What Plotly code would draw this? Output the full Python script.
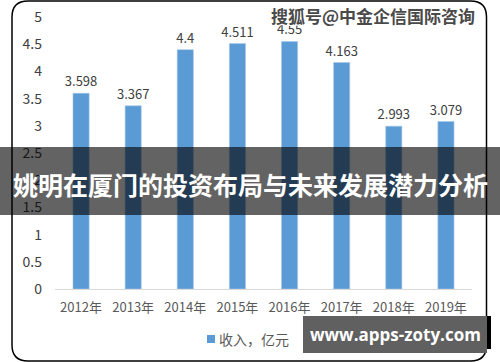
import plotly.graph_objects as go

years = ["2012年", "2013年", "2014年", "2015年", "2016年", "2017年", "2018年", "2019年"]
revenue = [3.598, 3.367, 4.4, 4.511, 4.55, 4.163, 2.993, 3.079]
value_labels = ["3.598", "3.367", "4.4", "4.511", "4.55", "4.163", "2.993", "3.079"]
series_name = "收入，亿元"
banner_title = "姚明在厦门的投资布局与未来发展潜力分析"
top_mark = "搜狐号@中金企信国际咨询"
site_mark = "www.apps-zoty.com"

W, H = 500, 362
L, R, T, B = 55, 28, 17, 73
PW, PH = W - L - R, H - T - B

def px(x):
    return (x - L) / PW

def py(y):
    return (H - B - y) / PH

FONT = "Noto Sans CJK SC, Open Sans, sans-serif"

fig = go.Figure()
fig.add_trace(go.Bar(
    x=years, y=revenue, name=series_name,
    marker=dict(color="#5b9bd5", line=dict(color="#a9c8ea", width=0.6)),
    text=value_labels, textposition="outside", cliponaxis=False,
    constraintext="none",
    textfont=dict(size=13, color="#404040", family=FONT),
    showlegend=False,
))

r = 16
x0, x1, y0, y1 = 12, 486.5, 1, 361
pts = [
    f"M{px(x0)},{py(y0 + r)}",
    f"Q{px(x0)},{py(y0)} {px(x0 + r)},{py(y0)}",
    f"L{px(x1 - r)},{py(y0)}",
    f"Q{px(x1)},{py(y0)} {px(x1)},{py(y0 + r)}",
    f"L{px(x1)},{py(y1 - r)}",
    f"Q{px(x1)},{py(y1)} {px(x1 - r)},{py(y1)}",
    f"L{px(x0 + r)},{py(y1)}",
    f"Q{px(x0)},{py(y1)} {px(x0)},{py(y1 - r)}",
    "Z",
]
shapes = [
    dict(type="path", xref="paper", yref="paper", path=" ".join(pts),
         line=dict(color="black", width=1.5), layer="above"),
    dict(type="rect", xref="paper", yref="paper",
         x0=px(0), x1=px(500), y0=py(147), y1=py(215),
         fillcolor="rgba(0,0,0,0.61)", line=dict(width=0), layer="above"),
    dict(type="rect", xref="paper", yref="paper",
         x0=px(484), x1=px(491), y0=py(316), y1=py(349),
         fillcolor="black", line=dict(width=0), layer="above"),
    dict(type="rect", xref="paper", yref="paper",
         x0=px(303), x1=px(487), y0=py(316), y1=py(353),
         fillcolor="#606060", line=dict(width=0), layer="above"),
    dict(type="rect", xref="paper", yref="paper",
         x0=px(207), x1=px(215), y0=py(335), y1=py(343),
         fillcolor="#5b9bd5", line=dict(width=0), layer="above"),
]

annotations = [
    dict(text=series_name, xref="paper", yref="paper", x=px(217), y=py(339),
         xanchor="left", yanchor="middle", showarrow=False,
         font=dict(size=14, color="#595959", family=FONT)),
    dict(text=f"<b>{banner_title}</b>", xref="paper", yref="paper", x=px(250), y=py(184),
         xanchor="center", yanchor="middle", showarrow=False,
         font=dict(size=25, color="white", family=FONT)),
    dict(text=f"<b>{site_mark}</b>", xref="paper", yref="paper", x=px(395), y=py(334),
         xanchor="center", yanchor="middle", showarrow=False,
         font=dict(size=17, color="white", family="Open Sans, sans-serif")),
    dict(text=f"<b>{top_mark}</b>", xref="paper", yref="paper", x=px(373), y=py(15),
         xanchor="center", yanchor="middle", showarrow=False,
         font=dict(size=17, color="#4a4a4a", family=FONT,
                   shadow="1px 1px 0px white, -1px -1px 0px white, 1px -1px 0px white, -1px 1px 0px white")),
]

fig.update_layout(
    width=W, height=H,
    margin=dict(l=L, r=R, t=T, b=B, autoexpand=False),
    paper_bgcolor="white", plot_bgcolor="white",
    bargap=0.69,
    shapes=shapes, annotations=annotations,
    font=dict(family=FONT),
)
fig.update_xaxes(
    automargin=False,
    showgrid=False, showline=True, linecolor="#d9d9d9", linewidth=1,
    ticks="", tickfont=dict(size=13, color="#595959", family=FONT),
    ticklabelstandoff=6,
)
fig.update_yaxes(
    automargin=False,
    range=[0, 5], dtick=0.5, showgrid=False, zeroline=False, showline=False,
    tickfont=dict(size=14, color="#404040", family=FONT),
    ticklabelstandoff=12,
)

fig.write_html(
    "out.html",
    config={"displayModeBar": False, "staticPlot": True},
    post_script="document.body.style.margin='0';document.body.style.padding='0';document.body.style.overflow='hidden';",
)
